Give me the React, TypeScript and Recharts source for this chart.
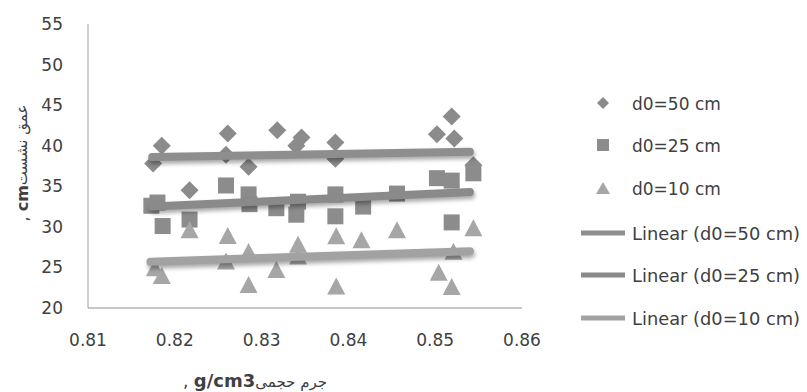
import { Scatter, ScatterChart, XAxis, YAxis } from "recharts";

const xTicks = [0.81, 0.82, 0.83, 0.84, 0.85, 0.86];
const yTicks = [20, 25, 30, 35, 40, 45, 50, 55];

// d0=50 cm (diamonds)
const d50 = [
  { x: 0.8175, y: 37.8 },
  { x: 0.8185, y: 40.0 },
  { x: 0.8217, y: 34.5 },
  { x: 0.8261, y: 41.5 },
  { x: 0.8259, y: 38.9 },
  { x: 0.8285, y: 37.4 },
  { x: 0.8318, y: 41.9 },
  { x: 0.8346, y: 41.0 },
  { x: 0.834, y: 40.0 },
  { x: 0.8385, y: 40.4 },
  { x: 0.8385, y: 38.4 },
  { x: 0.8519, y: 43.6 },
  { x: 0.8502, y: 41.4 },
  { x: 0.8522, y: 40.9 },
  { x: 0.8544, y: 37.6 },
];

// d0=25 cm (squares)
const d25 = [
  { x: 0.8173, y: 32.6 },
  { x: 0.818, y: 33.0 },
  { x: 0.8186, y: 30.1 },
  { x: 0.8217, y: 30.9 },
  { x: 0.8259, y: 35.1 },
  { x: 0.8285, y: 34.0 },
  { x: 0.8286, y: 32.8 },
  { x: 0.8317, y: 32.3 },
  { x: 0.8342, y: 33.1 },
  { x: 0.834, y: 31.5 },
  { x: 0.8385, y: 34.0 },
  { x: 0.8385, y: 31.3 },
  { x: 0.8417, y: 32.5 },
  { x: 0.8456, y: 34.1 },
  { x: 0.8502, y: 36.0 },
  { x: 0.8519, y: 35.7 },
  { x: 0.8519, y: 30.55 },
  { x: 0.8544, y: 36.6 },
];

// d0=10 cm (triangles)
const d10 = [
  { x: 0.8177, y: 24.95 },
  { x: 0.8185, y: 24.0 },
  { x: 0.8217, y: 29.65 },
  { x: 0.8261, y: 28.95 },
  { x: 0.8259, y: 25.8 },
  { x: 0.8285, y: 26.95 },
  { x: 0.8285, y: 22.9 },
  { x: 0.8317, y: 24.75 },
  { x: 0.8342, y: 27.85 },
  { x: 0.8342, y: 26.4 },
  { x: 0.8386, y: 28.9 },
  { x: 0.8386, y: 22.7 },
  { x: 0.8415, y: 28.4 },
  { x: 0.8456, y: 29.65 },
  { x: 0.8504, y: 24.4 },
  { x: 0.8519, y: 22.65 },
  { x: 0.8521, y: 27.0 },
  { x: 0.8544, y: 29.9 },
];

// linear trendlines, end points
const trend50 = [{ x: 0.8174, y: 38.6 }, { x: 0.854, y: 39.25 }];
const trend25 = [{ x: 0.8174, y: 32.5 }, { x: 0.854, y: 34.3 }];
const trend10 = [{ x: 0.8172, y: 25.7 }, { x: 0.854, y: 27.0 }];

const TEXT = "#404040";
const FONT = "DejaVu Sans";
const C50 = "#8b8b8b";
const C25 = "#8c8c8c";
const C10 = "#a6a6a6";

function Diamond({ cx, cy, fill }: any) {
  const r = 9;
  return <path d={`M${cx},${cy - r}L${cx + r},${cy}L${cx},${cy + r}L${cx - r},${cy}Z`} fill={fill} />;
}

function Square({ cx, cy, fill }: any) {
  const h = 8;
  return <rect x={cx - h} y={cy - h} width={h * 2} height={h * 2} fill={fill} />;
}

function Triangle({ cx, cy, fill }: any) {
  const w = 9;
  const h = 8.5;
  return <path d={`M${cx},${cy - h}L${cx + w},${cy + h}L${cx - w},${cy + h}Z`} fill={fill} />;
}

const legendRows = [
  { label: "d0=50 cm", kind: "diamond", color: C50, y: 103 },
  { label: "d0=25 cm", kind: "square", color: C25, y: 145 },
  { label: "d0=10 cm", kind: "triangle", color: C10, y: 188 },
  { label: "Linear (d0=50 cm)", kind: "line", color: "#8e8e8e", y: 233 },
  { label: "Linear (d0=25 cm)", kind: "line", color: "#8a8a8a", y: 275 },
  { label: "Linear (d0=10 cm)", kind: "line", color: "#a2a2a2", y: 318 },
];

function LegendIcon({ kind, color, y }: { kind: string; color: string; y: number }) {
  const cx = 603;
  if (kind === "diamond") return <path d={`M${cx},${y - 6}L${cx + 6},${y}L${cx},${y + 6}L${cx - 6},${y}Z`} fill={color} />;
  if (kind === "square") return <rect x={cx - 6} y={y - 6} width={12} height={12} fill={color} />;
  if (kind === "triangle") return <path d={`M${cx},${y - 6}L${cx + 7},${y + 6}L${cx - 7},${y + 6}Z`} fill={color} />;
  return <line x1={581} x2={625} y1={y} y2={y} stroke={color} strokeWidth={5} />;
}

export default function App() {
  return (
    <div style={{ position: "absolute", left: 0, top: 0, width: 807, height: 392, background: "#fff" }}>
      <style>{`.trend path { filter: drop-shadow(1px 3px 2px rgba(0,0,0,0.35)); }`}</style>
      <ScatterChart width={807} height={392} margin={{ top: 24, right: 285, bottom: 0, left: 0 }}>
        <XAxis
          type="number"
          dataKey="x"
          domain={[0.81, 0.86]}
          ticks={xTicks}
          interval={0}
          tickFormatter={(v: number) => v.toFixed(2)}
          tickLine={false}
          tickSize={0}
          tickMargin={26}
          height={84}
          axisLine={{ stroke: "#909090" }}
          tick={{ fill: TEXT, fontSize: 17, fontFamily: FONT }}
          allowDataOverflow
        />
        <YAxis
          type="number"
          dataKey="y"
          domain={[20, 55]}
          ticks={yTicks}
          interval={0}
          tickLine={false}
          tickSize={0}
          tickMargin={25}
          width={88}
          axisLine={{ stroke: "#a0a0a0" }}
          tick={{ fill: TEXT, fontSize: 17, fontFamily: FONT }}
          allowDataOverflow
        />
        <Scatter data={d50} fill={C50} shape={<Diamond />} isAnimationActive={false} />
        <Scatter data={d25} fill={C25} shape={<Square />} isAnimationActive={false} />
        <Scatter data={d10} fill={C10} shape={<Triangle />} isAnimationActive={false} />
        <Scatter
          data={trend50}
          className="trend"
          line={{ stroke: "#8e8e8e", strokeWidth: 8, strokeLinecap: "round" }}
          shape={() => <g />}
          isAnimationActive={false}
        />
        <Scatter
          data={trend25}
          className="trend"
          line={{ stroke: "#8a8a8a", strokeWidth: 8, strokeLinecap: "round" }}
          shape={() => <g />}
          isAnimationActive={false}
        />
        <Scatter
          data={trend10}
          className="trend"
          line={{ stroke: "#a2a2a2", strokeWidth: 8, strokeLinecap: "round" }}
          shape={() => <g />}
          isAnimationActive={false}
        />
      </ScatterChart>
      <svg
        width={807}
        height={392}
        style={{ position: "absolute", left: 0, top: 0, pointerEvents: "none" }}
        fontFamily={FONT}
      >
        {legendRows.map((r) => (
          <g key={r.label}>
            <LegendIcon kind={r.kind} color={r.color} y={r.y} />
            <text
              x={632}
              y={r.y + 7}
              fontSize={17}
              fill={TEXT}
              {...(r.kind === "line" ? { textLength: 168, lengthAdjust: "spacingAndGlyphs" } : {})}
            >
              {r.label}
            </text>
          </g>
        ))}
        <text transform="translate(22,163) rotate(-90)" textAnchor="middle" dominantBaseline="central" fill={TEXT}>
          <tspan fontSize={16}>, </tspan>
          <tspan fontSize={16} fontWeight="bold">cm</tspan>
          <tspan fontSize={15}>عمق نشست</tspan>
        </text>
        <text x={255} y={387} textAnchor="middle" fill={TEXT}>
          <tspan fontSize={17}>, </tspan>
          <tspan fontSize={18} fontWeight="bold">g/cm3</tspan>
          <tspan fontSize={15}>جرم حجمی</tspan>
        </text>
      </svg>
    </div>
  );
}
